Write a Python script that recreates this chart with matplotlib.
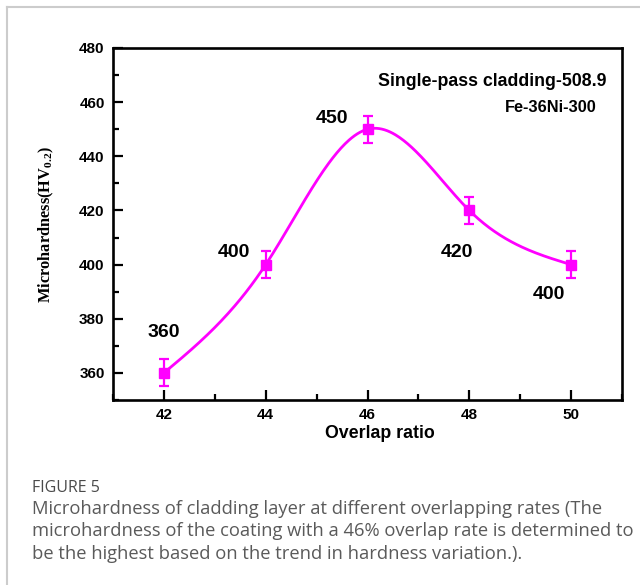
import matplotlib

matplotlib.use("Agg")
import matplotlib.pyplot as plt
import numpy as np
from matplotlib.lines import Line2D
from matplotlib.ticker import MultipleLocator

overlap = [42, 44, 46, 48, 50]
hardness = [360, 400, 450, 420, 400]
err = [5, 5, 5, 5, 5]
labels = ["360", "400", "450", "420", "400"]
label_pos = [(42.0, 375), (43.37, 404.5), (45.3, 454), (47.76, 404.5), (49.56, 389)]

MAGENTA = "#ff00ff"
CAPTION = "#5a5a5a"


def natural_spline(x, y, xs):
    x = np.asarray(x, float)
    y = np.asarray(y, float)
    n = len(x)
    h = np.diff(x)
    a = np.zeros((n, n))
    b = np.zeros(n)
    a[0, 0] = a[-1, -1] = 1.0
    for i in range(1, n - 1):
        a[i, i - 1] = h[i - 1]
        a[i, i] = 2 * (h[i - 1] + h[i])
        a[i, i + 1] = h[i]
        b[i] = 6 * ((y[i + 1] - y[i]) / h[i] - (y[i] - y[i - 1]) / h[i - 1])
    m = np.linalg.solve(a, b)
    idx = np.clip(np.searchsorted(x, xs) - 1, 0, n - 2)
    t0 = xs - x[idx]
    t1 = x[idx + 1] - xs
    hi = h[idx]
    return (m[idx] * t1**3 / (6 * hi) + m[idx + 1] * t0**3 / (6 * hi)
            + (y[idx] / hi - m[idx] * hi / 6) * t1 + (y[idx + 1] / hi - m[idx + 1] * hi / 6) * t0)


plt.rcParams["font.family"] = ["Liberation Sans", "DejaVu Sans"]
plt.rcParams["mathtext.fontset"] = "custom"
plt.rcParams["mathtext.rm"] = "Liberation Serif:bold"
plt.rcParams["mathtext.it"] = "Liberation Serif:bold"
plt.rcParams["mathtext.bf"] = "Liberation Serif:bold"

fig = plt.figure(figsize=(6.4, 5.85), dpi=100)
W, H = 640, 585
ax = fig.add_axes([113 / W, 1 - 400 / H, (622 - 113) / W, (400 - 48) / H])

xs = np.linspace(overlap[0], overlap[-1], 300)
ax.plot(xs, natural_spline(overlap, hardness, xs), color=MAGENTA, lw=2.0, zorder=2)
ax.errorbar(overlap, hardness, yerr=err, fmt="s", color=MAGENTA, ms=6.5,
            elinewidth=1.6, capsize=3.8, capthick=1.6, zorder=3)

for text, (lx, ly) in zip(labels, label_pos):
    ax.text(lx, ly, text, ha="center", va="center", fontsize=14, fontweight="bold")

ax.text(0.969, 0.905, "Single-pass cladding-508.9", transform=ax.transAxes,
        ha="right", va="center", fontsize=12.8, fontweight="bold")
ax.text(0.95, 0.83, "Fe-36Ni-300", transform=ax.transAxes,
        ha="right", va="center", fontsize=11.8, fontweight="bold")

ax.set_xlim(41, 51)
ax.set_ylim(350, 480)
ax.xaxis.set_major_locator(MultipleLocator(2))
ax.xaxis.set_minor_locator(MultipleLocator(1))
ax.yaxis.set_major_locator(MultipleLocator(20))
ax.yaxis.set_minor_locator(MultipleLocator(10))
ax.tick_params(which="both", direction="in", width=1.6, labelsize=11, pad=6)
ax.tick_params(which="major", length=7)
ax.tick_params(which="minor", length=4)
for lab in ax.get_xticklabels() + ax.get_yticklabels():
    lab.set_fontweight("bold")
for sp in ax.spines.values():
    sp.set_linewidth(1.9)

ax.set_xlabel("Overlap ratio", fontsize=12.8, fontweight="bold", labelpad=1)
ax.xaxis.set_label_coords((380 - 113) / 509, -0.07)
ax.set_ylabel("Microhardness(HV$_{0.2}$)", fontsize=11.8, fontfamily="Liberation Serif",
              fontweight="bold", labelpad=17)

# light frame of the figure panel
fig.add_artist(Line2D([7 / W, 1.0], [1 - 7 / H, 1 - 7 / H], color="#cccccc", lw=1.5))
fig.add_artist(Line2D([7 / W, 7 / W], [0.0, 1 - 7 / H], color="#cccccc", lw=1.5))

fig.text(32 / W, 1 - 488 / H, "FIGURE 5", fontsize=11.5, color="#4a4a4a",
         fontfamily="Open Sans", va="center")
caption = ["Microhardness of cladding layer at different overlapping rates (The",
           "microhardness of the coating with a 46% overlap rate is determined to",
           "be the highest based on the trend in hardness variation.)."]
for i, line in enumerate(caption):
    fig.text(32 / W, 1 - (509 + 22.5 * i) / H, line, fontsize=13.2, color=CAPTION,
             fontfamily="Open Sans", va="center")

fig.savefig("out.png", dpi=100)
